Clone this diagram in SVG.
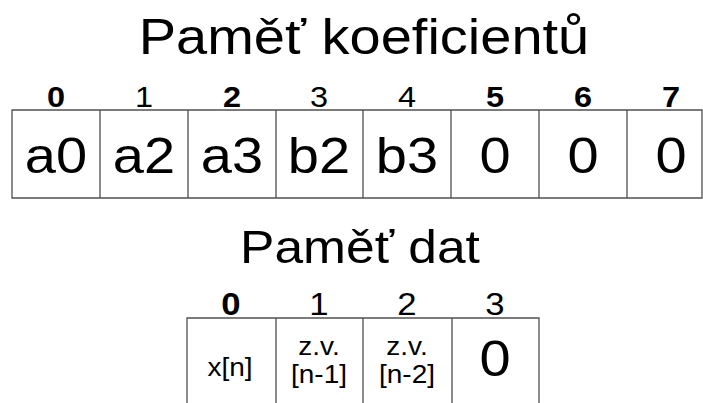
<svg xmlns="http://www.w3.org/2000/svg" width="703" height="403" viewBox="0 0 703 403">
<style>
text { font-family: "Liberation Sans", Arial, sans-serif; fill: #000; text-anchor: middle; transform-box: fill-box; transform-origin: center; transform: scaleX(1.12); }
.title { font-size: 50px; }
.sub { font-size: 46px; }
.idx { font-size: 29px; }
.idx2 { font-size: 31px; }
.b { font-weight: bold; }
.big { font-size: 50px; }
.mid { font-size: 50px; }
.sm { font-size: 25px; }
.cell { fill: none; stroke: #505050; stroke-width: 1.3; }
</style>
<rect width="703" height="403" fill="#fff"/>
<g id="title"><text class="title" x="364" y="54">Paměť koeficientů</text></g>
<g id="coef-memory">
  <path class="cell" d="M12,110 H702 V198 H12 Z M100,110 V198 M188,110 V198 M276,110 V198 M363,110 V198 M451,110 V198 M539,110 V198 M627,110 V198"/>
  <g id="c0"><text class="idx b" x="56" y="107">0</text><text class="big" x="56" y="173">a0</text></g>
  <g id="c1"><text class="idx" x="144" y="107">1</text><text class="big" x="144" y="173">a2</text></g>
  <g id="c2"><text class="idx b" x="232" y="107">2</text><text class="big" x="232" y="173">a3</text></g>
  <g id="c3"><text class="idx" x="319" y="107">3</text><text class="big" x="319" y="173">b2</text></g>
  <g id="c4"><text class="idx" x="407" y="107">4</text><text class="big" x="407" y="173">b3</text></g>
  <g id="c5"><text class="idx b" x="495" y="107">5</text><text class="big" x="495" y="173">0</text></g>
  <g id="c6"><text class="idx b" x="583" y="107">6</text><text class="big" x="583" y="173">0</text></g>
  <g id="c7"><text class="idx b" x="671" y="107">7</text><text class="big" x="671" y="173">0</text></g>
</g>
<g id="subtitle"><text class="sub" x="360" y="263">Paměť dat</text></g>
<g id="data-memory">
  <path class="cell" d="M187,410 V318 H539 V410 M276,318 V410 M363,318 V410 M452,318 V410"/>
  <g id="d0"><text class="idx2 b" x="231" y="315">0</text><text class="sm" x="230" y="376">x[n]</text></g>
  <g id="d1"><text class="idx2" x="319" y="315">1</text><text class="sm" x="319" y="355">z.v.</text><text class="sm" x="319" y="383">[n-1]</text></g>
  <g id="d2"><text class="idx2" x="407" y="315">2</text><text class="sm" x="407" y="355">z.v.</text><text class="sm" x="407" y="383">[n-2]</text></g>
  <g id="d3"><text class="idx2" x="495" y="315">3</text><text class="mid" x="495" y="376">0</text></g>
</g>
</svg>
